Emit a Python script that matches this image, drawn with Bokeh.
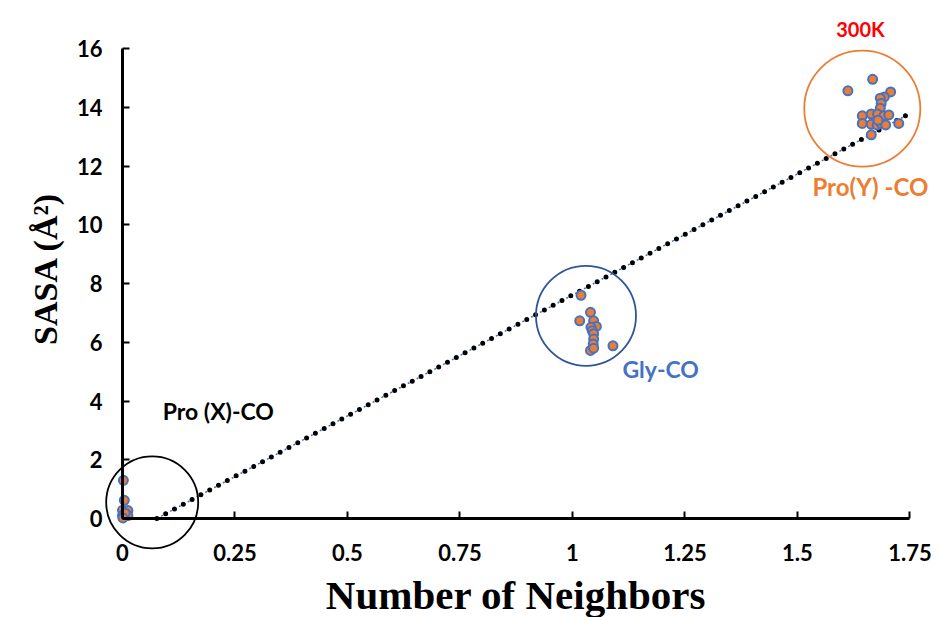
import numpy as np
from bokeh.plotting import figure
from bokeh.models import Range1d, FixedTicker, Label, ColumnDataSource
from bokeh.embed import file_html
from bokeh.resources import INLINE

# Pro(X)-CO carbonyls
prox_neighbors = [0.002, 0.004, 0.000, 0.012, 0.000, 0.012, 0.006, 0.001]
prox_sasa = [1.30, 0.62, 0.28, 0.27, 0.10, 0.10, 0.18, 0.02]

# Gly-CO carbonyls
gly_neighbors = [1.019, 1.016, 1.040, 1.047, 1.053, 1.041, 1.044, 1.047, 1.047,
                 1.046, 1.040, 1.047, 1.090]
gly_sasa = [7.60, 6.73, 7.02, 6.73, 6.54, 6.51, 6.39, 6.29, 6.11, 5.94, 5.72,
            5.80, 5.88]

# Pro(Y)-CO carbonyls
proy_neighbors = [1.667, 1.612, 1.707, 1.693, 1.684, 1.686, 1.684, 1.644, 1.664,
                  1.678, 1.692, 1.703, 1.644, 1.664, 1.677, 1.686, 1.696, 1.725,
                  1.664, 1.679]
proy_sasa = [14.95, 14.56, 14.52, 14.35, 14.31, 14.13, 13.97, 13.71, 13.77, 13.77,
             13.71, 13.74, 13.45, 13.42, 13.40, 13.45, 13.40, 13.45, 13.06, 13.56]

x_ticks = [0, 0.25, 0.5, 0.75, 1.0, 1.25, 1.5, 1.75]
x_tick_labels = ["0", "0.25", "0.5", "0.75", "1", "1.25", "1.5", "1.75"]
y_ticks = [0, 2, 4, 6, 8, 10, 12, 14, 16]

# group annotations
group_labels = ["Pro (X)-CO", "Gly-CO", "Pro(Y) -CO", "300K"]
group_label_x = [0.213, 1.196, 1.662, 1.640]
group_label_y = [3.67, 5.10, 11.29, 16.67]
group_label_colors = ["#000000", "#4472C4", "#ED7D31", "#FF0000"]
group_label_sizes = ["23px", "23px", "24px", "20px"]

# rings drawn around each group (centre, diameter in px, colour)
ring_x = [0.066, 1.030, 1.644]
ring_y = [0.55, 6.90, 13.95]
ring_size = [92, 100, 116]
ring_colors = ["#000000", "#2F5597", "#ED7D31"]

all_x = np.array(prox_neighbors + gly_neighbors + proy_neighbors)
all_y = np.array(prox_sasa + gly_sasa + proy_sasa)

# the frame spans the whole canvas; axes sit at x=0 / y=0
p = figure(width=939, height=617, output_backend="svg", toolbar_location=None,
           x_range=Range1d(-0.2711, 1.8156), y_range=Range1d(-3.370, 17.634),
           min_border=0)
p.title.visible = False
p.outline_line_color = None
p.xgrid.visible = False
p.ygrid.visible = False
p.background_fill_color = "white"
p.border_fill_color = "white"

# linear trendline through all points, shown from where it meets y=0
slope, intercept = np.polyfit(all_x, all_y, 1)
x_start = max(0.0, -intercept / slope)
tx = np.array([x_start, 1.75])
ty = slope * tx + intercept
p.line(tx, ty, line_color="#4472C4", line_width=1.5, line_dash="2 3")
p.line(tx, ty, line_color="black", line_width=5, line_cap="round",
       line_dash="0 10")

# group rings
p.scatter(ring_x, ring_y, size=ring_size, marker="circle", fill_color=None,
          line_color=ring_colors, line_width=1.8)

src = ColumnDataSource(dict(x=all_x, y=all_y))
p.scatter("x", "y", source=src, size=9, marker="circle", fill_color="#ED7D31",
          line_color="#4472C4", line_width=2)

for txt, lx, ly, c, fs in zip(group_labels, group_label_x, group_label_y,
                              group_label_colors, group_label_sizes):
    p.add_layout(Label(x=lx, y=ly, text=txt, text_color=c, text_font="Lato",
                       text_font_style="bold", text_font_size=fs,
                       text_align="center", text_baseline="middle"))

# axes
for ax in (p.xaxis[0], p.yaxis[0]):
    ax.fixed_location = 0
    ax.axis_line_color = "black"
    ax.axis_line_width = 3
    ax.major_tick_line_color = "black"
    ax.major_tick_line_width = 2
    ax.major_tick_in = 7
    ax.major_tick_out = 0
    ax.minor_tick_line_color = None
    ax.major_label_text_font = "Lato"
    ax.major_label_text_font_style = "bold"
    ax.major_label_text_font_size = "22px"
    ax.major_label_text_color = "black"
    ax.axis_label_text_font = "Liberation Serif"
    ax.axis_label_text_font_style = "bold"
    ax.axis_label_text_color = "black"

p.xaxis.bounds = (0, 1.75)
p.yaxis.bounds = (0, 16)
p.xaxis.ticker = FixedTicker(ticks=x_ticks)
p.xaxis.major_label_overrides = {t: s for t, s in zip(x_ticks, x_tick_labels)}
p.yaxis.ticker = FixedTicker(ticks=y_ticks)
p.xaxis.axis_label = "Number of Neighbors"
p.xaxis.axis_label_text_font_size = "41px"
p.xaxis.major_label_standoff = 25
p.yaxis.major_label_standoff = 20
p.xaxis.axis_label_standoff = 8

# y-axis title, placed left of the tick labels
p.add_layout(Label(x=-0.171, y=8.51, text="SASA (Å²)", angle=np.pi / 2,
                   text_font="Liberation Serif", text_font_style="bold",
                   text_font_size="34px", text_color="black",
                   text_align="center", text_baseline="middle"))

open("out.html", "w").write(file_html(p, INLINE))
